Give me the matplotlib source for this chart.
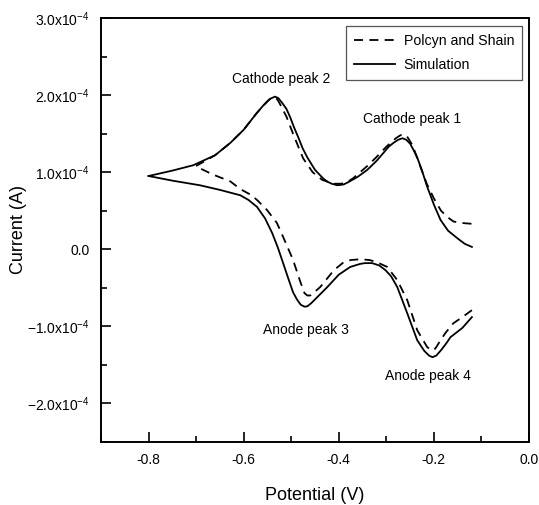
import matplotlib
matplotlib.use("Agg")
import matplotlib.pyplot as plt
import numpy as np
from matplotlib.ticker import FixedLocator, FuncFormatter, MultipleLocator

plt.rcParams['font.family'] = ['Liberation Sans', 'DejaVu Sans']
plt.rcParams['mathtext.fontset'] = 'custom'
plt.rcParams['mathtext.rm'] = 'Liberation Sans'

# current values in units of 1e-4 A
sim_fwd_v = [-0.80, -0.75, -0.706, -0.66, -0.628, -0.60, -0.572, -0.558, -0.545, -0.534,
             -0.527, -0.518, -0.51, -0.502, -0.494, -0.485, -0.476, -0.466, -0.45, -0.433,
             -0.425, -0.415, -0.403, -0.39, -0.38, -0.36, -0.34, -0.32, -0.306, -0.295,
             -0.285, -0.275, -0.266, -0.258, -0.25, -0.243, -0.235, -0.225, -0.214, -0.20,
             -0.186, -0.17, -0.15, -0.135, -0.12]
sim_fwd_i = [0.95, 1.02, 1.09, 1.22, 1.38, 1.55, 1.77, 1.87, 1.95, 1.98,
             1.96, 1.89, 1.82, 1.71, 1.58, 1.45, 1.31, 1.19, 1.03, 0.92,
             0.88, 0.85, 0.83, 0.84, 0.87, 0.94, 1.03, 1.15, 1.25, 1.33,
             1.38, 1.42, 1.44, 1.42, 1.37, 1.29, 1.19, 1.02, 0.81, 0.58,
             0.38, 0.24, 0.14, 0.07, 0.03]

sim_rev_v = [-0.12, -0.14, -0.165, -0.175, -0.185, -0.195, -0.203, -0.21, -0.22, -0.235,
             -0.256, -0.277, -0.29, -0.302, -0.315, -0.33, -0.345, -0.355, -0.376, -0.40,
             -0.424, -0.445, -0.458, -0.466, -0.472, -0.48, -0.488, -0.496, -0.505, -0.517,
             -0.528, -0.54, -0.555, -0.572, -0.59, -0.607, -0.65, -0.692, -0.75, -0.80]
sim_rev_i = [-0.88, -1.02, -1.14, -1.23, -1.31, -1.38, -1.40, -1.38, -1.32, -1.18,
             -0.83, -0.49, -0.35, -0.27, -0.21, -0.18, -0.18, -0.19, -0.23, -0.33,
             -0.49, -0.62, -0.70, -0.74, -0.745, -0.72, -0.65, -0.56, -0.40, -0.18,
             0.02, 0.21, 0.40, 0.55, 0.64, 0.70, 0.77, 0.83, 0.89, 0.95]

exp_fwd_v = [-0.70, -0.66, -0.628, -0.60, -0.572, -0.55, -0.542, -0.536, -0.53, -0.525,
             -0.51, -0.495, -0.475, -0.455, -0.435, -0.42, -0.41, -0.395, -0.38, -0.37,
             -0.34, -0.32, -0.30, -0.28, -0.27, -0.262, -0.255, -0.245, -0.23, -0.215,
             -0.20, -0.185, -0.172, -0.159, -0.14, -0.12]
exp_fwd_i = [1.08, 1.22, 1.38, 1.55, 1.77, 1.92, 1.96, 1.97, 1.95, 1.90,
             1.72, 1.48, 1.18, 1.00, 0.90, 0.87, 0.85, 0.85, 0.88, 0.92,
             1.08, 1.20, 1.33, 1.44, 1.48, 1.49, 1.45, 1.35, 1.10, 0.85,
             0.66, 0.50, 0.42, 0.36, 0.34, 0.33]

exp_rev_v = [-0.12, -0.14, -0.159, -0.175, -0.186, -0.195, -0.20, -0.207, -0.214, -0.235,
             -0.256, -0.277, -0.298, -0.319, -0.335, -0.355, -0.375, -0.39, -0.41, -0.439,
             -0.452, -0.46, -0.466, -0.472, -0.481, -0.496, -0.517, -0.53, -0.551, -0.572,
             -0.586, -0.607, -0.628, -0.665, -0.692, -0.70]
exp_rev_i = [-0.79, -0.88, -0.96, -1.08, -1.18, -1.27, -1.31, -1.30, -1.27, -1.05,
             -0.66, -0.40, -0.23, -0.17, -0.14, -0.13, -0.14, -0.17, -0.27, -0.49,
             -0.56, -0.60, -0.60, -0.57, -0.42, -0.14, 0.16, 0.34, 0.51, 0.64,
             0.71, 0.78, 0.88, 0.97, 1.05, 1.08]

peak_labels = ["Cathode peak 2", "Cathode peak 1", "Anode peak 3", "Anode peak 4"]
peak_v = [-0.521, -0.245, -0.468, -0.213]
peak_i = [2.21, 1.69, -1.05, -1.65]

y_ticks = [-2.0, -1.0, 0.0, 1.0, 2.0, 3.0]
x_ticks = [-0.8, -0.6, -0.4, -0.2, 0.0]

scale = 1e-4


def ylabel_fmt(val, pos):
    v = val / scale
    if abs(v) < 1e-9:
        return "0.0"
    return r"$\mathregular{%.1fx10^{-4}}$" % v


fig = plt.figure(figsize=(5.39, 5.05), dpi=100)
ax = fig.add_axes([0.1874, 0.1248, 0.794, 0.8396])

kw = dict(color='black', lw=1.3, solid_joinstyle='round', dash_joinstyle='round')
ax.plot(exp_fwd_v, np.array(exp_fwd_i) * scale, dashes=(5, 3.5), label="Polcyn and Shain", **kw)
ax.plot(exp_rev_v, np.array(exp_rev_i) * scale, dashes=(5, 3.5), **kw)
ax.plot(sim_fwd_v, np.array(sim_fwd_i) * scale, label="Simulation", **kw)
ax.plot(sim_rev_v, np.array(sim_rev_i) * scale, **kw)

for lab, v, i in zip(peak_labels, peak_v, peak_i):
    ax.text(v, i * scale, lab, ha='center', va='center', fontsize=10)

ax.set_xlim(-0.9, 0.0)
ax.set_ylim(-2.5e-4, 3.0e-4)
ax.xaxis.set_major_locator(FixedLocator(x_ticks))
ax.xaxis.set_minor_locator(MultipleLocator(0.1))
ax.yaxis.set_major_locator(FixedLocator([t * scale for t in y_ticks]))
ax.yaxis.set_minor_locator(MultipleLocator(0.5e-4))
ax.yaxis.set_major_formatter(FuncFormatter(ylabel_fmt))
ax.xaxis.set_major_formatter(FuncFormatter(lambda v, p: "%.1f" % v))

ax.tick_params(which='major', direction='in', length=7, width=1.2, labelsize=10, pad=8)
ax.tick_params(which='minor', direction='in', length=4, width=1.2)
ax.tick_params(top=False, right=False)
for s in ax.spines.values():
    s.set_linewidth(1.4)

ax.set_xlabel("Potential (V)", fontsize=13, labelpad=14)
ax.set_ylabel("Current (A)", fontsize=13)
ax.yaxis.set_label_coords(-0.172, 0.5)

leg = ax.legend(loc='upper right', bbox_to_anchor=(0.9836, 0.981), borderaxespad=0,
                fontsize=10.2, handlelength=2.9, fancybox=False, edgecolor='#555555',
                framealpha=1, borderpad=0.55, labelspacing=0.75, handletextpad=0.6)
leg.get_frame().set_linewidth(0.9)

fig.savefig("out.png", dpi=100)
